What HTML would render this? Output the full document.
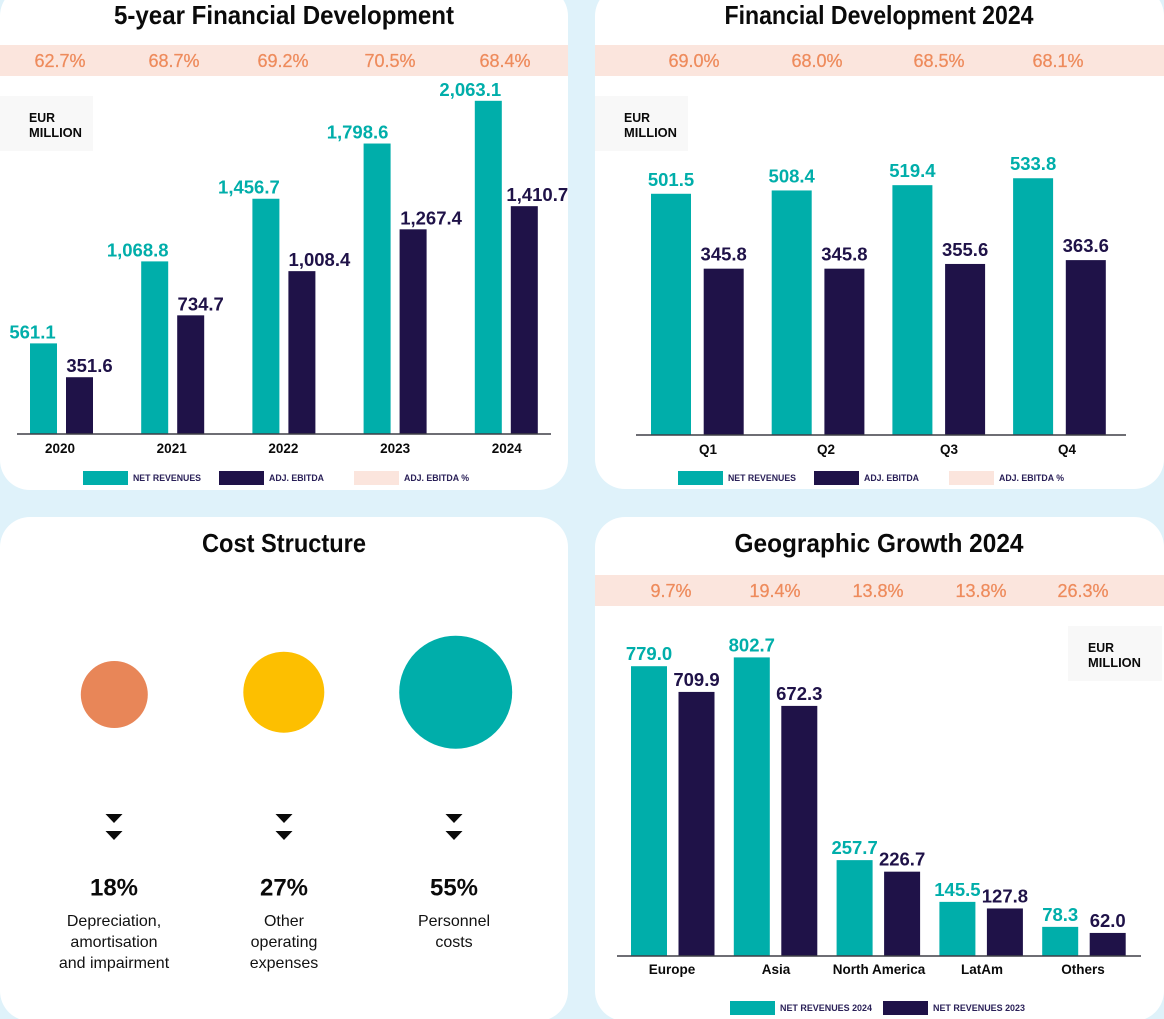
<!DOCTYPE html>
<html lang="en">
<head>
<meta charset="utf-8">
<title>Financial Overview 2024</title>
<style>
html,body{margin:0;padding:0;background:#dff2fa;}
body{width:1164px;height:1019px;overflow:hidden;font-family:"Liberation Sans",sans-serif;}
svg{display:block;}
text{font-family:"Liberation Sans",sans-serif;}
.title{font-size:26px;font-weight:700;fill:#0a0a0a;text-anchor:middle;}
.unit{font-size:12.5px;font-weight:700;fill:#0a0a0a;}
.pct{font-size:18px;font-weight:400;fill:#ee8b5c;text-anchor:middle;stroke:#ee8b5c;stroke-width:.25px;}
.val{font-size:18.5px;font-weight:700;text-anchor:middle;}
.cat{font-size:13.5px;font-weight:700;fill:#0a0a0a;text-anchor:middle;}
.leg{font-size:9.5px;font-weight:700;fill:#2a2058;}
.share{font-size:24px;font-weight:700;fill:#0a0a0a;text-anchor:middle;}
.desc{font-size:16px;fill:#111;text-anchor:middle;}
</style>
</head>
<body>
<svg id="root" xmlns="http://www.w3.org/2000/svg" width="1164" height="1019" viewBox="0 0 1164 1019">
  <rect x="0" y="0" width="1164" height="1019" fill="#dff2fa"/>
  <rect x="0" y="-14" width="568" height="504" rx="30" fill="#fff"/>
  <rect x="595" y="-14" width="569" height="503" rx="30" fill="#fff"/>
  <rect x="0" y="517" width="568" height="504" rx="30" fill="#fff"/>
  <rect x="595" y="517" width="569" height="504" rx="30" fill="#fff"/>

  <text class="title" x="284" y="24" textLength="340" lengthAdjust="spacingAndGlyphs">5-year Financial Development</text>
  <text class="title" x="879" y="24" textLength="309" lengthAdjust="spacingAndGlyphs">Financial Development 2024</text>
  <text class="title" x="284" y="552" textLength="164" lengthAdjust="spacingAndGlyphs">Cost Structure</text>
  <text class="title" x="879" y="552" textLength="289" lengthAdjust="spacingAndGlyphs">Geographic Growth 2024</text>

  <rect x="0" y="45" width="568" height="31" fill="#fbe5dd"/>
  <rect x="595" y="45" width="569" height="31" fill="#fbe5dd"/>
  <rect x="595" y="575" width="569" height="31" fill="#fbe5dd"/>

  <g>
    <rect x="0" y="96" width="93" height="55" fill="#f8f8f8"/>
    <text class="unit" x="29" y="122" textLength="26" lengthAdjust="spacingAndGlyphs">EUR</text>
    <text class="unit" x="29" y="137" textLength="53" lengthAdjust="spacingAndGlyphs">MILLION</text>
  </g>
  <g>
    <rect x="595" y="96" width="93" height="55" fill="#f8f8f8"/>
    <text class="unit" x="624" y="122" textLength="26" lengthAdjust="spacingAndGlyphs">EUR</text>
    <text class="unit" x="624" y="137" textLength="53" lengthAdjust="spacingAndGlyphs">MILLION</text>
  </g>
  <g>
    <rect x="1068" y="626" width="94" height="55" fill="#f8f8f8"/>
    <text class="unit" x="1088" y="652" textLength="26" lengthAdjust="spacingAndGlyphs">EUR</text>
    <text class="unit" x="1088" y="667" textLength="53" lengthAdjust="spacingAndGlyphs">MILLION</text>
  </g>

  <g>
    <rect x="83" y="471" width="45" height="14" fill="#00aeaa"/>
    <text class="leg" x="133" y="481" textLength="68" lengthAdjust="spacingAndGlyphs">NET REVENUES</text>
    <rect x="219" y="471" width="45" height="14" fill="#1f1248"/>
    <text class="leg" x="269" y="481" textLength="55" lengthAdjust="spacingAndGlyphs">ADJ. EBITDA</text>
    <rect x="354" y="471" width="45" height="14" fill="#fbe5dd"/>
    <text class="leg" x="404" y="481" textLength="65" lengthAdjust="spacingAndGlyphs">ADJ. EBITDA %</text>
  </g>
  <g>
    <rect x="678" y="471" width="45" height="14" fill="#00aeaa"/>
    <text class="leg" x="728" y="481" textLength="68" lengthAdjust="spacingAndGlyphs">NET REVENUES</text>
    <rect x="814" y="471" width="45" height="14" fill="#1f1248"/>
    <text class="leg" x="864" y="481" textLength="55" lengthAdjust="spacingAndGlyphs">ADJ. EBITDA</text>
    <rect x="949" y="471" width="45" height="14" fill="#fbe5dd"/>
    <text class="leg" x="999" y="481" textLength="65" lengthAdjust="spacingAndGlyphs">ADJ. EBITDA %</text>
  </g>
  <g>
    <rect x="730" y="1001" width="45" height="14" fill="#00aeaa"/>
    <text class="leg" x="780" y="1011" textLength="92" lengthAdjust="spacingAndGlyphs">NET REVENUES 2024</text>
    <rect x="883" y="1001" width="45" height="14" fill="#1f1248"/>
    <text class="leg" x="933" y="1011" textLength="92" lengthAdjust="spacingAndGlyphs">NET REVENUES 2023</text>
  </g>
</svg>

<script>
// ---- Chart data ----
const fiveYearCategories = ['2020', '2021', '2022', '2023', '2024'];
const fiveYearRevenues = [561.1, 1068.8, 1456.7, 1798.6, 2063.1];
const fiveYearEbitda = [351.6, 734.7, 1008.4, 1267.4, 1410.7];
const fiveYearMargins = ['62.7%', '68.7%', '69.2%', '70.5%', '68.4%'];

const quarterCategories = ['Q1', 'Q2', 'Q3', 'Q4'];
const quarterRevenues = [501.5, 508.4, 519.4, 533.8];
const quarterEbitda = [345.8, 345.8, 355.6, 363.6];
const quarterMargins = ['69.0%', '68.0%', '68.5%', '68.1%'];

const regionCategories = ['Europe', 'Asia', 'North America', 'LatAm', 'Others'];
const regionRevenues2024 = [779.0, 802.7, 257.7, 145.5, 78.3];
const regionRevenues2023 = [709.9, 672.3, 226.7, 127.8, 62.0];
const regionGrowth = ['9.7%', '19.4%', '13.8%', '13.8%', '26.3%'];

const costShares = [18, 27, 55];
const costDescriptions = [
  ['Depreciation,', 'amortisation', 'and impairment'],
  ['Other', 'operating', 'expenses'],
  ['Personnel', 'costs']
];
const costColors = ['#e88658', '#fdbf00', '#00aeaa'];

// ---- Layout ----
const TEAL = '#00aeaa';
const NAVY = '#1f1248';
const SVGNS = 'http://www.w3.org/2000/svg';
const root = document.getElementById('root');

function make(tag, parent, props, content) {
  const el = document.createElementNS(SVGNS, tag);
  for (const k in props) el.setAttribute(k, props[k]);
  if (content !== undefined) el.textContent = content;
  parent.appendChild(el);
  return el;
}
function fmt(v) {
  return v.toLocaleString('en-US', {minimumFractionDigits: 1, maximumFractionDigits: 1});
}

function drawChart(cfg) {
  const g = make('g', root, {});
  
  

  const y = v => cfg.baseY - v * cfg.scale;

  cfg.labels.forEach((label, i) => {
    const xA = cfg.startX + i * cfg.step;
    const xB = xA + cfg.offset;

    const barA = make('rect', g, {x: xA, y: y(cfg.a[i]), width: cfg.barW, height: cfg.baseY - y(cfg.a[i]), fill: TEAL});
    
    

    const barB = make('rect', g, {x: xB, y: y(cfg.b[i]), width: cfg.barW, height: cfg.baseY - y(cfg.b[i]), fill: NAVY});
    
    

    const valA = make('text', g, {class: 'val', x: xA + cfg.barW / 2 + cfg.nudgeA[i], y: y(cfg.a[i]) - cfg.gap, fill: TEAL}, fmt(cfg.a[i]));
    
    

    const valB = make('text', g, {class: 'val', x: xB + cfg.barW / 2 + cfg.nudgeB[i], y: y(cfg.b[i]) - cfg.gap, fill: NAVY}, fmt(cfg.b[i]));
    
    

    const cat = make('text', g, {class: 'cat', x: cfg.catX(i), y: cfg.baseY + cfg.catDy}, label);
    
    
  });

  cfg.pct.forEach((p, i) => {
    const t = make('text', g, {class: 'pct', x: cfg.pctX(i), y: cfg.pctY}, p);
    
    
  });

  const axis = make('line', g, {x1: cfg.axis0, x2: cfg.axis1, y1: cfg.baseY, y2: cfg.baseY, stroke: '#3f3f46', 'stroke-width': 1.6});
  
  
}

drawChart({
  name: 'five-year-chart', aKey: 'net-revenues', bKey: 'adj-ebitda',
  labels: fiveYearCategories, a: fiveYearRevenues, b: fiveYearEbitda, pct: fiveYearMargins,
  baseY: 434, scale: 0.1615, startX: 30, step: 111.2, offset: 36, barW: 27, gap: 5,
  nudgeA: [-11, -17, -17, -19.5, -18], nudgeB: [10, 10, 17.5, 18, 13],
  catX: i => 60 + i * 111.7, catDy: 19,
  pctX: i => [60, 174, 283, 390, 505][i], pctY: 67,
  axis0: 17, axis1: 551
});
drawChart({
  name: 'quarterly-chart', aKey: 'net-revenues', bKey: 'adj-ebitda',
  labels: quarterCategories, a: quarterRevenues, b: quarterEbitda, pct: quarterMargins,
  baseY: 435, scale: 0.481, startX: 651, step: 120.7, offset: 52.7, barW: 40, gap: 8,
  nudgeA: [0, 0, 0, 0], nudgeB: [0, 0, 0, 0],
  catX: i => [708, 826, 949, 1067][i], catDy: 19,
  pctX: i => [694, 817, 939, 1058][i], pctY: 67,
  axis0: 636, axis1: 1126
});
drawChart({
  name: 'geographic-chart', aKey: 'net-revenues-2024', bKey: 'net-revenues-2023',
  labels: regionCategories, a: regionRevenues2024, b: regionRevenues2023, pct: regionGrowth,
  baseY: 956, scale: 0.372, startX: 631, step: 102.8, offset: 47.5, barW: 36, gap: 6,
  nudgeA: [0, 0, 0, 0, 0], nudgeB: [0, 0, 0, 0, 0],
  catX: i => [672, 776, 879, 982, 1083][i], catDy: 18,
  pctX: i => [671, 775, 878, 981, 1083][i], pctY: 597,
  axis0: 617, axis1: 1141
});

// ---- Cost structure: bubble size grows with share ----
const bubbleCenterX = i => [114.3, 283.8, 455.7][i];
const bubbleCenterY = i => [694.5, 692.2, 692.2][i];
const costColumnX = i => [114, 284, 454][i];
const costRadius = v => 8.66 * Math.pow(v, 0.468);
const costG = make('g', root, {});



costShares.forEach((share, i) => {
  const cx = costColumnX(i);
  const c = make('circle', costG, {cx: bubbleCenterX(i), cy: bubbleCenterY(i), r: costRadius(share), fill: costColors[i]});
  
  

  [814, 831].forEach(top => {
    const a = make('polygon', costG, {points: (cx - 8.5) + ',' + top + ' ' + (cx + 8.5) + ',' + top + ' ' + cx + ',' + (top + 9), fill: '#0a0a0a'});
    
    
  });

  const s = make('text', costG, {class: 'share', x: cx, y: 895.5}, share + '%');
  
  

  costDescriptions[i].forEach((line, j) => {
    const d = make('text', costG, {class: 'desc', x: cx, y: 926 + j * 21}, line);
    
    
  });
});
</script>
</body>
</html>
